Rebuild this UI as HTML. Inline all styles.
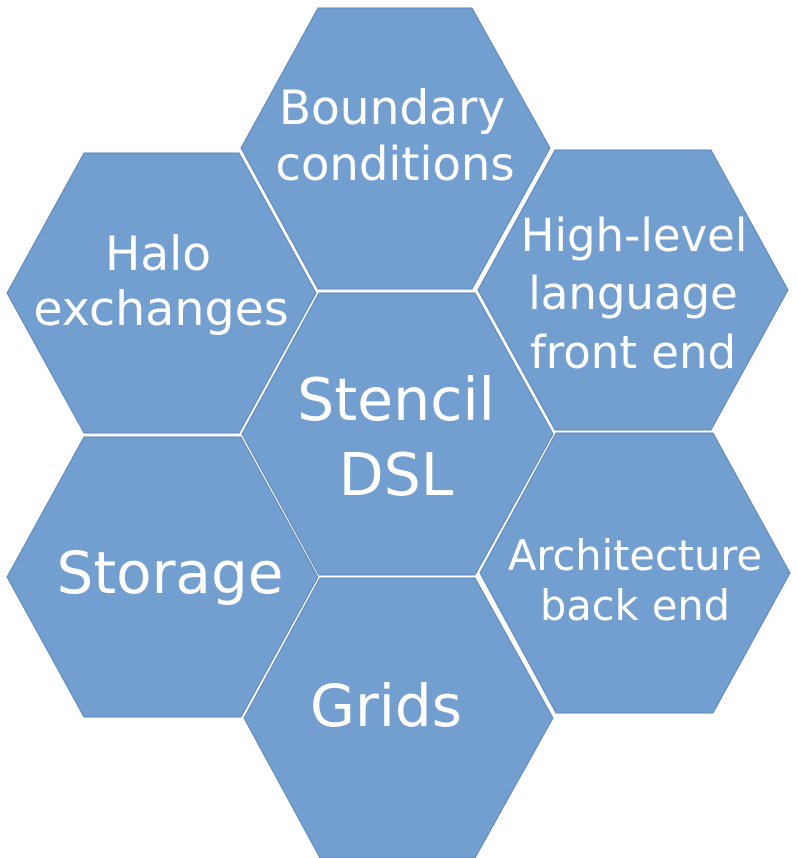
<!DOCTYPE html>
<html><head><style>html,body{margin:0;padding:0;background:#fff}svg{display:block}</style></head><body>
<svg width="797" height="858" viewBox="0 0 797 858" xmlns="http://www.w3.org/2000/svg">
<g fill="#729fcf" stroke="#5a86bd" stroke-width="1">
<polygon points="318,8 472,8 550,148 472,289 318,289 241,148"/>
<polygon points="319,293 475,293 553,434 475,575 319,575 242,434"/>
<polygon points="84,153 239,153 316,293 239,433 84,433 7,293"/>
<polygon points="555,150 711,150 788,290 711,430 555,430 478,290"/>
<polygon points="84,437 241,437 318,577 241,717 84,717 7,577"/>
<polygon points="556,433 713,433 790,573 713,713 556,713 480,573"/>
<polygon points="320,578 475,578 553,718 475,858 320,858 244,718"/>
</g>
<g fill="#fff" font-family="'DejaVu Sans','Liberation Sans',sans-serif" text-anchor="middle">
<text x="392" y="124" font-size="47">Boundary</text>
<text x="395" y="180" font-size="46.5">conditions</text>
<text x="158" y="270" font-size="47">Halo</text>
<text x="161" y="325" font-size="47.5">exchanges</text>
<text x="634" y="251" font-size="45">High-level</text>
<text x="633" y="309" font-size="45">language</text>
<text x="633" y="368" font-size="45">front end</text>
<text x="396" y="420" font-size="58.5">Stencil</text>
<text x="396" y="495" font-size="58.5">DSL</text>
<text x="170" y="593" font-size="58">Storage</text>
<text x="635" y="570" font-size="41.5">Architecture</text>
<text x="635" y="620" font-size="41.5">back end</text>
<text x="386" y="726" font-size="58">Grids</text>
</g>
</svg>
</body></html>
